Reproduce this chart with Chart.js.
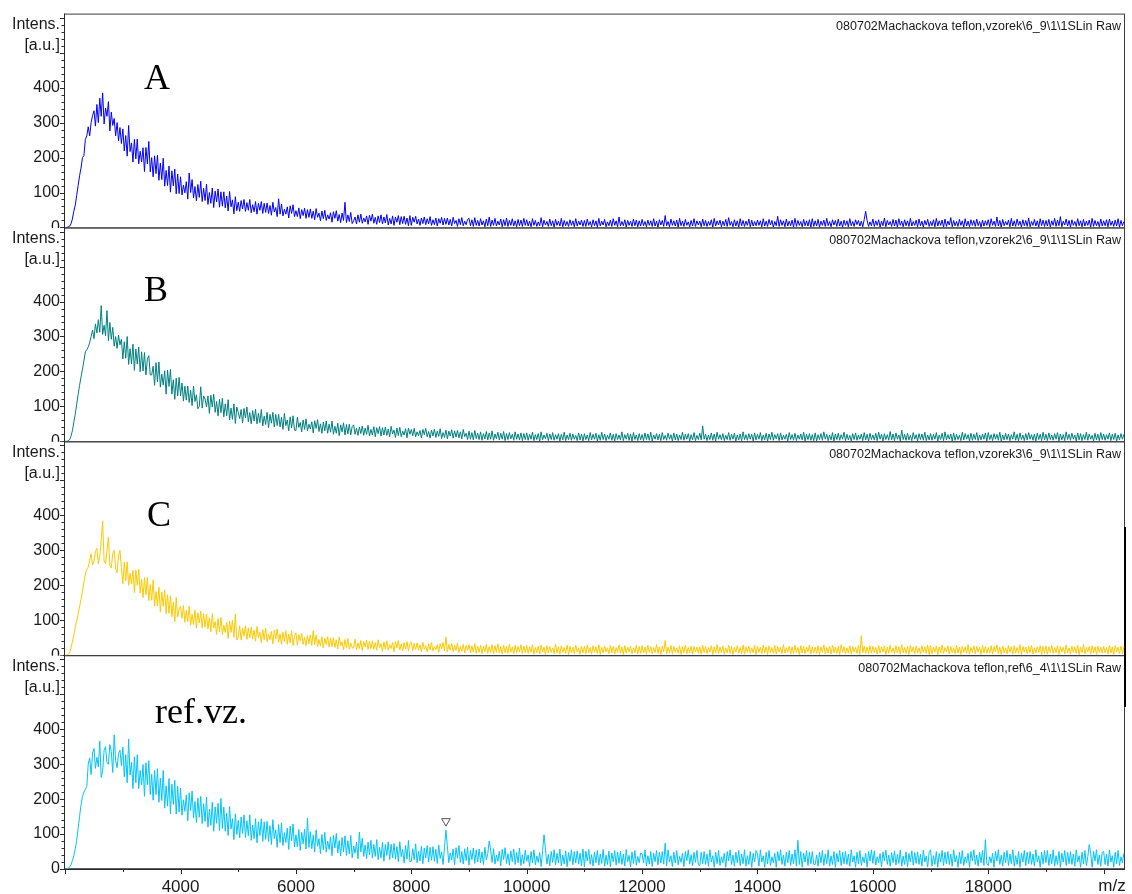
<!DOCTYPE html>
<html>
<head>
<meta charset="utf-8">
<script src="https://cdn.jsdelivr.net/npm/chart.js@4.4.1/dist/chart.umd.min.js"></script>
<style>
  html, body { margin: 0; padding: 0; background: #ffffff; }
  canvas { display: block; }
</style>
</head>
<body>
<canvas id="spectra" width="1132" height="894"></canvas>
<script>
// m/z sampling grid shared by all four spectra
const mz = [
  2000,2025,2050,2075,2100,2125,2150,2175,2200,2225,2250,2275,2300,2325,2350,2375,2400,2425,2450,2475,2500,2525,2550,2575,2600,2625,2650,2675,2700,2725,2750,2775,2800,2825,2850,2875,2900,2925,2950,2975,
  3000,3025,3050,3075,3100,3125,3150,3175,3200,3225,3250,3275,3300,3325,3350,3375,3400,3425,3450,3475,3500,3525,3550,3575,3600,3625,3650,3675,3700,3725,3750,3775,3800,3825,3850,3875,3900,3925,3950,3975,
  4000,4025,4050,4075,4100,4125,4150,4175,4200,4225,4250,4275,4300,4325,4350,4375,4400,4425,4450,4475,4500,4525,4550,4575,4600,4625,4650,4675,4700,4725,4750,4775,4800,4825,4850,4875,4900,4925,4950,4975,
  5000,5025,5050,5075,5100,5125,5150,5175,5200,5225,5250,5275,5300,5325,5350,5375,5400,5425,5450,5475,5500,5525,5550,5575,5600,5625,5650,5675,5700,5725,5750,5775,5800,5825,5850,5875,5900,5925,5950,5975,
  6000,6025,6050,6075,6100,6125,6150,6175,6200,6225,6250,6275,6300,6325,6350,6375,6400,6425,6450,6475,6500,6525,6550,6575,6600,6625,6650,6675,6700,6725,6750,6775,6800,6825,6850,6875,6900,6925,6950,6975,
  7000,7025,7050,7075,7100,7125,7150,7175,7200,7225,7250,7275,7300,7325,7350,7375,7400,7425,7450,7475,7500,7525,7550,7575,7600,7625,7650,7675,7700,7725,7750,7775,7800,7825,7850,7875,7900,7925,7950,7975,
  8000,8025,8050,8075,8100,8125,8150,8175,8200,8225,8250,8275,8300,8325,8350,8375,8400,8425,8450,8475,8500,8525,8550,8575,8600,8625,8650,8675,8700,8725,8750,8775,8800,8825,8850,8875,8900,8925,8950,8975,
  9000,9025,9050,9075,9100,9125,9150,9175,9200,9225,9250,9275,9300,9325,9350,9375,9400,9425,9450,9475,9500,9525,9550,9575,9600,9625,9650,9675,9700,9725,9750,9775,9800,9825,9850,9875,9900,9925,9950,9975,
  10000,10025,10050,10075,10100,10125,10150,10175,10200,10225,10250,10275,10300,10325,10350,10375,10400,10425,10450,10475,10500,10525,10550,10575,10600,10625,10650,10675,10700,10725,10750,10775,10800,10825,10850,10875,10900,10925,10950,10975,
  11000,11025,11050,11075,11100,11125,11150,11175,11200,11225,11250,11275,11300,11325,11350,11375,11400,11425,11450,11475,11500,11525,11550,11575,11600,11625,11650,11675,11700,11725,11750,11775,11800,11825,11850,11875,11900,11925,11950,11975,
  12000,12025,12050,12075,12100,12125,12150,12175,12200,12225,12250,12275,12300,12325,12350,12375,12400,12425,12450,12475,12500,12525,12550,12575,12600,12625,12650,12675,12700,12725,12750,12775,12800,12825,12850,12875,12900,12925,12950,12975,
  13000,13025,13050,13075,13100,13125,13150,13175,13200,13225,13250,13275,13300,13325,13350,13375,13400,13425,13450,13475,13500,13525,13550,13575,13600,13625,13650,13675,13700,13725,13750,13775,13800,13825,13850,13875,13900,13925,13950,13975,
  14000,14025,14050,14075,14100,14125,14150,14175,14200,14225,14250,14275,14300,14325,14350,14375,14400,14425,14450,14475,14500,14525,14550,14575,14600,14625,14650,14675,14700,14725,14750,14775,14800,14825,14850,14875,14900,14925,14950,14975,
  15000,15025,15050,15075,15100,15125,15150,15175,15200,15225,15250,15275,15300,15325,15350,15375,15400,15425,15450,15475,15500,15525,15550,15575,15600,15625,15650,15675,15700,15725,15750,15775,15800,15825,15850,15875,15900,15925,15950,15975,
  16000,16025,16050,16075,16100,16125,16150,16175,16200,16225,16250,16275,16300,16325,16350,16375,16400,16425,16450,16475,16500,16525,16550,16575,16600,16625,16650,16675,16700,16725,16750,16775,16800,16825,16850,16875,16900,16925,16950,16975,
  17000,17025,17050,17075,17100,17125,17150,17175,17200,17225,17250,17275,17300,17325,17350,17375,17400,17425,17450,17475,17500,17525,17550,17575,17600,17625,17650,17675,17700,17725,17750,17775,17800,17825,17850,17875,17900,17925,17950,17975,
  18000,18025,18050,18075,18100,18125,18150,18175,18200,18225,18250,18275,18300,18325,18350,18375,18400,18425,18450,18475,18500,18525,18550,18575,18600,18625,18650,18675,18700,18725,18750,18775,18800,18825,18850,18875,18900,18925,18950,18975,
  19000,19025,19050,19075,19100,19125,19150,19175,19200,19225,19250,19275,19300,19325,19350,19375,19400,19425,19450,19475,19500,19525,19550,19575,19600,19625,19650,19675,19700,19725,19750,19775,19800,19825,19850,19875,19900,19925,19950,19975,
  20000,20025,20050,20075,20100,20125,20150,20175,20200,20225,20250,20275,20300,20325,20350
];

// Intensities [a.u.] of sample A (vzorek)
const intensA = [
  0,0,1,3,10,24,46,64,92,120,148,170,200,205,252,262,288,262,300,320,334,290,352,300,370,318,385,296,342,318,360,276,330,292,312,262,300,248,286,240,
  282,219,263,204,292,217,242,187,252,196,253,182,218,187,228,160,229,182,246,159,200,145,205,154,207,135,184,137,198,118,163,120,176,101,162,119,167,96,153,97,
  145,93,121,99,131,81,156,100,137,85,117,76,123,86,132,74,112,77,124,66,100,69,113,57,104,73,110,58,102,61,102,56,90,47,103,59,79,39,88,48,
  72,46,77,53,80,46,71,49,80,42,65,45,74,38,69,49,74,40,69,43,70,40,63,35,72,44,57,31,82,38,67,33,52,38,59,27,62,40,65,31,
  48,31,56,25,51,34,55,26,51,29,53,26,47,22,54,29,41,19,47,25,49,20,36,24,42,15,45,26,48,18,37,14,41,20,72,14,36,17,43,11,
  19,30,10,36,15,38,12,27,16,33,9,35,18,38,12,29,9,33,14,36,10,30,13,37,7,26,10,33,6,30,15,34,8,31,11,32,9,27,5,34,
  6,29,15,32,10,24,6,27,11,30,8,25,10,31,6,22,8,27,4,25,12,29,7,26,9,27,7,23,4,29,11,20,3,25,8,28,5,18,8,23,
  26,5,22,3,28,6,20,4,25,7,19,2,24,5,30,3,21,6,26,4,18,7,24,2,22,5,27,3,20,6,25,4,19,2,23,5,21,3,26,6,
  22,4,18,2,25,6,20,3,16,5,28,2,21,7,17,3,24,5,19,1,23,6,18,4,26,2,20,5,17,3,22,6,19,2,25,4,18,7,21,3,
  20,3,24,6,17,2,22,5,19,1,26,4,18,7,23,2,16,5,21,3,25,6,19,2,30,4,17,5,22,1,20,6,18,3,24,5,21,2,19,4,
  23,5,17,2,21,6,19,3,25,4,18,1,22,7,20,3,34,5,17,2,24,6,19,4,21,1,26,5,18,3,23,6,16,2,20,4,25,3,19,7,
  18,2,24,5,20,3,17,6,22,1,26,4,19,7,21,2,18,5,23,3,28,6,17,2,22,4,19,1,25,5,20,3,18,6,24,2,21,4,17,5,
  21,6,19,2,25,4,18,3,23,7,20,1,17,5,32,3,22,6,19,2,24,4,18,5,21,1,26,3,20,6,17,2,23,5,19,4,22,1,25,3,
  19,4,23,1,18,6,21,3,26,5,17,2,22,7,20,3,24,4,18,1,21,6,19,2,25,5,17,3,22,8,20,4,18,2,23,46,20,3,16,5,
  24,3,19,6,22,1,18,5,27,2,20,7,17,3,23,4,21,1,25,6,18,2,22,5,19,3,26,4,17,6,21,2,24,5,18,1,20,7,23,3,
  17,5,22,2,26,4,19,6,21,1,24,3,18,7,28,2,20,5,17,3,23,6,19,1,25,4,18,2,22,6,20,3,24,5,17,1,21,4,19,6,
  22,2,25,6,18,3,30,4,20,1,23,5,17,7,21,2,26,4,19,3,24,6,18,1,22,5,20,3,27,2,17,6,23,4,19,1,25,5,21,3,
  20,4,23,1,19,6,26,3,21,5,31,2,18,7,24,4,20,1,22,6,17,3,25,5,19,2,23,4,18,6,21,1,26,3,20,5,17,2,24,4,
  19,5,22,2,24,6,18,3,21,4,25,1,20,5,17
];

// Intensities [a.u.] of sample B (vzorek2)
const intensB = [
  0,0,1,4,14,30,54,78,106,134,160,184,206,230,256,262,270,282,300,318,294,336,310,348,312,388,306,332,302,374,288,340,292,326,272,300,266,304,276,292,
  236,285,238,300,220,265,221,278,203,264,221,270,199,256,201,254,190,235,245,190,190,215,160,225,170,227,155,192,161,202,135,204,157,206,135,176,120,181,130,183,
  130,167,115,158,118,158,111,146,102,158,114,133,93,100,156,95,130,121,98,130,80,132,98,135,83,114,73,120,82,123,70,107,73,119,61,95,63,107,51,98,
  83,65,91,52,94,67,98,56,82,50,88,58,92,50,80,53,91,44,72,48,83,39,77,52,83,41,77,45,77,41,69,34,80,45,61,30,70,38,73,32,
  31,69,40,54,27,61,34,64,30,49,35,56,24,59,37,62,28,50,23,55,30,58,23,49,26,58,20,43,23,52,16,47,27,53,18,48,21,49,18,42,
  47,20,37,17,41,22,44,17,38,20,46,15,34,18,42,13,39,22,42,15,39,18,41,17,35,13,43,21,32,11,38,16,40,13,29,18,36,10,38,20,
  34,16,37,13,27,16,31,9,34,19,37,13,28,9,32,15,35,11,29,14,36,8,25,11,32,7,29,15,33,9,30,12,31,10,27,7,34,13,23,5,
  29,6,25,4,31,8,23,5,27,3,22,7,28,4,24,6,30,3,21,7,26,4,23,6,28,2,22,5,25,7,20,3,27,6,21,4,24,2,22,5,
  24,3,20,6,26,2,19,5,22,1,27,4,18,7,23,2,21,5,25,3,19,6,22,1,20,4,26,2,18,5,23,3,21,6,17,2,24,4,20,1,
  22,5,18,2,25,4,20,6,23,1,19,3,26,5,21,2,17,6,24,3,20,1,22,5,18,4,27,2,19,6,23,3,21,1,25,5,18,2,22,4,
  19,2,24,5,21,3,26,1,18,6,22,4,20,2,25,5,17,3,23,6,19,1,24,4,21,2,18,5,26,3,20,6,22,1,19,4,25,2,17,5,
  23,4,44,6,20,2,18,5,24,3,21,1,26,6,19,4,22,2,17,5,25,3,20,6,23,1,18,4,21,2,27,5,19,3,22,6,20,1,24,4,
  20,6,25,2,18,4,23,1,21,5,26,3,19,7,22,2,24,4,17,6,20,1,25,5,19,3,23,2,18,6,21,4,26,1,20,5,22,3,19,2,
  24,1,19,5,22,3,27,6,20,2,18,4,25,1,21,5,23,3,19,6,26,2,20,4,17,1,22,5,24,3,18,6,21,2,25,4,20,1,23,5,
  18,4,23,2,26,6,20,1,22,5,19,3,28,4,21,2,24,6,18,1,32,5,20,3,23,4,17,2,25,6,19,1,22,5,21,3,26,2,18,4,
  22,3,20,6,25,1,18,5,23,2,27,4,19,6,21,1,24,3,20,5,17,2,26,4,22,6,19,1,23,3,20,5,25,2,18,4,21,6,24,1,
  25,5,19,2,22,6,20,3,26,1,18,4,23,5,21,2,19,6,27,3,20,1,24,5,18,2,22,4,25,6,19,3,21,1,23,5,20,2,26,4,
  20,2,24,5,18,3,22,6,25,1,21,4,19,2,27,5,20,3,23,6,18,1,24,4,22,2,19,5,26,3,21,6,17,1,23,4,20,2,25,5,
  21,3,19,6,24,2,20,5,23,1,18,4,22,6,20
];

// Intensities [a.u.] of sample C (vzorek3)
const intensC = [
  0,0,2,6,20,38,56,80,98,118,138,160,182,208,232,246,252,272,290,258,270,296,306,262,282,330,384,270,262,300,338,256,250,290,300,246,236,284,300,250,
  204,266,213,267,200,234,204,243,179,244,200,246,178,217,165,222,173,223,156,202,157,215,140,182,141,195,123,181,140,186,119,173,120,170,110,152,96,165,109,132,
  140,105,142,94,129,96,140,86,117,88,129,77,121,92,126,78,119,80,118,75,107,67,119,78,96,59,105,67,108,59,86,65,94,48,97,65,100,51,118,43,
  51,84,43,78,55,84,45,78,49,80,46,72,40,82,50,66,36,73,44,77,38,60,44,68,32,72,46,75,37,61,31,66,39,70,31,60,35,70,27,54,
  64,28,59,40,62,31,51,27,56,33,58,28,70,30,58,24,45,26,53,20,49,31,53,23,49,25,50,22,44,18,52,27,38,15,45,21,48,17,35,21,
  20,46,16,35,19,42,13,39,23,43,16,40,18,41,17,36,14,44,22,33,11,38,17,41,14,30,19,36,10,39,21,42,15,32,12,36,17,39,12,33,
  37,13,34,16,35,14,30,10,37,17,27,9,33,15,36,12,25,15,30,8,33,18,36,12,52,9,31,14,34,10,28,13,35,8,25,11,31,6,28,14,
  30,6,27,9,33,5,25,8,29,4,26,10,31,5,24,7,30,4,27,8,32,6,25,3,29,7,26,5,31,8,24,4,28,6,25,9,30,5,26,7,
  28,5,24,8,30,3,22,7,26,4,29,9,23,2,27,6,25,8,21,4,31,6,24,3,27,8,22,5,29,2,25,7,23,4,28,9,21,3,26,6,
  25,4,29,7,22,3,27,8,24,5,30,2,23,6,26,9,21,4,28,7,25,3,22,8,29,5,24,2,27,6,23,9,26,4,21,7,28,3,25,5,
  27,6,23,3,28,8,25,4,22,7,30,5,24,2,26,9,42,4,23,6,28,3,25,8,21,5,27,2,24,7,29,4,22,6,26,3,25,9,23,5,
  24,3,28,7,25,5,22,9,27,2,24,6,30,4,23,8,26,3,21,7,28,5,25,2,23,9,27,6,22,4,29,3,24,8,26,5,21,7,28,2,
  26,8,23,4,29,6,24,2,27,7,22,5,28,3,25,9,23,4,30,6,21,8,26,3,24,5,28,7,22,2,27,6,25,4,23,9,29,3,24,6,
  23,5,27,2,24,8,29,4,22,6,26,3,28,7,23,5,25,2,30,8,24,4,21,6,27,3,25,9,22,5,28,2,56,7,26,5,23,4,27,6,
  25,7,22,3,28,6,24,9,26,2,23,5,29,8,21,4,27,6,24,3,30,7,22,5,25,2,28,9,23,4,26,6,21,3,27,8,24,5,29,2,
  28,4,23,8,26,2,24,6,29,5,22,9,27,3,25,7,21,4,28,6,23,2,26,8,24,5,30,3,22,7,27,4,25,9,23,2,28,6,24,5,
  22,6,27,3,25,9,29,5,23,2,26,7,21,4,28,8,24,3,27,6,22,5,30,2,25,9,23,4,26,7,28,3,21,6,24,8,27,2,25,5,
  26,3,24,8,28,5,22,7,27,2,25,9,23,4,29,6,21,3,26,8,24,5,28,2,23,7,30,4,22,9,25,3,27,6,24,2,26,8,23,5,
  25,7,22,4,28,6,24,2,27,9,23,5,26,3,24
];

// Intensities [a.u.] of the reference sample (ref)
const intensRef = [
  0,0,2,5,12,24,38,58,82,116,150,184,208,220,228,236,300,318,270,332,345,288,320,292,366,262,280,340,350,304,300,356,336,276,384,310,290,330,340,296,
  349,264,327,247,372,269,305,230,321,247,327,230,282,241,299,208,304,241,310,213,271,197,282,213,287,191,260,196,282,174,238,180,259,158,243,185,254,157,237,163,
  232,154,198,165,212,138,218,167,223,146,193,133,203,148,208,130,187,136,206,120,171,125,191,108,178,131,188,110,202,116,177,108,160,96,179,114,144,84,158,99,
  139,89,149,102,155,90,138,95,155,82,126,87,144,75,135,96,144,79,135,85,137,79,124,70,141,87,112,62,127,76,132,67,104,76,117,56,123,81,129,63,
  98,64,113,53,105,72,114,57,146,62,107,58,97,49,112,65,87,44,99,55,105,48,80,56,92,38,97,60,102,46,81,37,90,49,95,39,81,43,96,32,
  66,45,77,29,106,49,88,36,69,30,77,41,82,31,70,36,84,27,62,32,76,22,70,39,78,27,71,32,73,28,64,21,78,35,56,17,67,28,82,21,
  22,58,27,72,18,51,23,65,15,60,32,67,20,62,25,64,22,56,16,69,30,49,13,61,111,65,18,46,26,57,12,61,31,67,19,50,14,58,24,63,
  11,53,27,60,16,55,20,57,18,49,13,62,26,44,80,54,19,58,14,40,22,51,9,56,27,61,16,44,11,52,21,57,13,47,18,60,10,41,15,54,
  22,40,7,50,17,55,12,37,19,47,7,52,98,57,14,42,9,50,19,55,12,45,17,57,9,40,14,52,7,47,22,55,12,50,17,52,14,45,9,57,
  6,51,23,56,13,41,8,49,18,53,11,43,16,56,8,39,13,51,6,46,21,53,11,49,16,51,13,43,8,56,21,39,6,49,16,53,11,36,18,46,
  43,17,55,9,38,14,50,7,45,21,53,12,48,17,50,14,74,9,55,21,38,7,48,17,53,12,36,19,45,7,50,24,55,14,41,9,48,19,53,12,
  10,48,15,50,13,43,8,55,20,38,5,48,15,53,10,35,18,45,5,50,23,55,13,40,8,48,18,53,10,43,15,55,8,38,13,50,5,45,20,53,
  43,8,55,20,38,5,48,15,53,10,35,18,45,5,50,23,55,13,40,8,48,18,53,10,43,15,55,8,82,13,50,5,45,20,53,10,48,15,50,13,
  13,40,8,48,18,53,10,43,15,55,8,38,13,50,5,45,20,53,10,48,15,50,13,43,8,55,20,38,5,48,15,53,10,35,18,45,5,50,23,55,
  16,52,11,35,18,44,6,49,23,54,13,40,8,47,18,52,11,42,16,54,8,37,13,49,6,44,20,52,11,47,16,49,13,42,8,54,20,37,6,47,
  55,8,38,13,50,5,45,20,53,10,48,15,50,13,43,8,55,20,38,5,48,15,53,10,35,18,45,5,50,23,55,13,40,8,48,18,53,10,84,15,
  10,35,18,45,5,50,23,55,13,40,8,48,18,53,10,43,15,55,8,38,13,50,5,45,20,53,10,48,15,50,13,43,8,55,20,38,5,48,15,53,
  18,53,10,43,15,55,8,38,13,50,5,45,20,53,10,48,15,50,13,43,8,55,20,38,5,48,15,53,10,35,70,45,5,50,23,55,13,40,8,48,
  50,13,43,8,55,20,38,5,48,15,53,10,35,18,45
];

// Peak marked with a triangle in the reference spectrum
const markerMz = [8600];
const markerIntens = [137];

// Axis tick labels
const xTickLabels = [4000, 6000, 8000, 10000, 12000, 14000, 16000, 18000];
const yTickLabels = [0, 100, 200, 300, 400];

// Panel texts
const spectrumTitles = [
  '080702Machackova teflon,vzorek\\6_9\\1\\1SLin Raw',
  '080702Machackova teflon,vzorek2\\6_9\\1\\1SLin Raw',
  '080702Machackova teflon,vzorek3\\6_9\\1\\1SLin Raw',
  '080702Machackova teflon,ref\\6_4\\1\\1SLin Raw'
];
const sampleNames = ['A', 'B', 'C', 'ref.vz.'];

// ---- styling / layout ----
const SANS = "'Liberation Sans', Arial, sans-serif";
const SERIF = "'Liberation Serif', 'Times New Roman', serif";
const panelAxes = ['yA', 'yB', 'yC', 'yD'];
const lineColors = ['#0000ff', '#008080', '#ffc800', '#00c3ff'];
const nameOffsets = [ // [centre x, baseline below panel top]
  [157, 75], [156, 74], [159, 85], [201, 68]
];
const Y_MAX = 612;

Chart.defaults.font.family = SANS;

function yAxis() {
  return {
    type: 'linear',
    position: 'left',
    stack: 'panels',
    stackWeight: 1,
    min: 0,
    max: Y_MAX,
    grid: { display: false, drawTicks: false },
    border: { display: false },
    afterBuildTicks(scale) { scale.ticks = yTickLabels.map((v) => ({ value: v })); },
    ticks: {
      autoSkip: false,
      padding: 4,
      color: '#1a1a1a',
      font: { family: SANS, size: 16 },
      callback: (v) => String(v)
    },
    afterFit(scale) { scale.width = 64; }
  };
}

const scales = {
  x: {
    type: 'linear',
    min: 1980,
    max: 20370,
    grid: { display: false, drawTicks: false },
    border: { display: false },
    afterBuildTicks(scale) { scale.ticks = xTickLabels.map((v) => ({ value: v })); },
    ticks: {
      autoSkip: false,
      maxRotation: 0,
      minRotation: 0,
      padding: 8,
      color: '#1a1a1a',
      font: { family: SANS, size: 17 },
      callback: (v) => String(v)
    },
    afterFit(scale) { scale.height = 25; }
  }
};
// stacked left axes are laid out bottom-first, so register the lowest panel first
panelAxes.slice().reverse().forEach((id) => { scales[id] = yAxis(); });

const series = [intensA, intensB, intensC, intensRef];
const datasets = series.map((values, i) => ({
  type: 'line',
  data: values,
  yAxisID: panelAxes[i],
  borderColor: lineColors[i],
  borderWidth: 1,
  pointRadius: 0,
  tension: 0,
  fill: false
}));
datasets.push({
  type: 'scatter',
  data: markerMz.map((x, i) => ({ x: x, y: markerIntens[i] })),
  yAxisID: 'yD',
  pointStyle: 'triangle',
  rotation: 180,
  pointRadius: 5,
  backgroundColor: '#ffffff',
  borderColor: '#555555',
  borderWidth: 1
});

// Frames, tick marks, axis captions and panel annotations
const panelDecor = {
  id: 'panelDecor',
  beforeDatasetsDraw(chart) {
    const ctx = chart.ctx;
    const area = chart.chartArea;
    const xs = chart.scales.x;
    ctx.save();
    panelAxes.forEach((id, i) => {
      const ys = chart.scales[id];
      const top = ys.top, bottom = ys.bottom;

      // hide the lower half of the previous panel's "0" label
      if (i > 0) {
        ctx.fillStyle = '#ffffff';
        ctx.fillRect(0, top + 0.5, area.left - 1, 9);
      }

      // frame
      ctx.strokeStyle = '#3c3c3c';
      ctx.lineWidth = 1;
      ctx.strokeRect(area.left + 0.5, top + 0.5, area.right - area.left - 1, bottom - top);

      // y ticks: every 20, longer every 100
      ctx.strokeStyle = '#2a2a2a';
      ctx.beginPath();
      for (let v = 0; v <= 600; v += 20) {
        const y = Math.round(ys.getPixelForValue(v)) + 0.5;
        const len = v % 100 === 0 ? 4 : 2.5;
        ctx.moveTo(area.left, y);
        ctx.lineTo(area.left - len, y);
      }
      ctx.stroke();

      // axis caption
      ctx.fillStyle = '#1a1a1a';
      ctx.font = '16px ' + SANS;
      ctx.textAlign = 'right';
      ctx.textBaseline = 'middle';
      ctx.fillText('Intens.', area.left - 4, top + 11);
      ctx.fillText('[a.u.]', area.left - 4, top + 32);

      // spectrum title
      ctx.font = '12.5px ' + SANS;
      ctx.fillText(spectrumTitles[i], area.right - 4, top + 13);

      // sample name
      ctx.font = '36px ' + SERIF;
      ctx.fillStyle = '#000000';
      ctx.textAlign = 'center';
      ctx.textBaseline = 'alphabetic';
      ctx.fillText(sampleNames[i], nameOffsets[i][0], top + nameOffsets[i][1]);
    });

    // bottom axis line and x ticks
    const bottom = area.bottom;
    ctx.strokeStyle = '#2a2a2a';
    ctx.lineWidth = 1.5;
    ctx.beginPath();
    ctx.moveTo(area.left, bottom);
    ctx.lineTo(area.right, bottom);
    ctx.stroke();
    ctx.lineWidth = 1;
    ctx.beginPath();
    for (let v = 2000; v <= 20000; v += 1000) {
      const x = Math.round(xs.getPixelForValue(v)) + 0.5;
      const len = v % 2000 === 0 ? 4 : 2;
      ctx.moveTo(x, bottom + 1);
      ctx.lineTo(x, bottom + 1 + len);
    }
    ctx.stroke();

    // left axis line
    ctx.beginPath();
    ctx.moveTo(area.left + 0.5, area.top);
    ctx.lineTo(area.left + 0.5, bottom);
    ctx.stroke();

    // x axis unit
    ctx.fillStyle = '#1a1a1a';
    ctx.font = '17px ' + SANS;
    ctx.textAlign = 'center';
    ctx.textBaseline = 'middle';
    ctx.fillText('m/z', area.right - 13, bottom + 17);

    // cursor bar on the right edge
    ctx.fillStyle = '#000000';
    ctx.fillRect(area.right - 1, 527, 2, 180);
    ctx.restore();
  }
};

new Chart(document.getElementById('spectra'), {
  type: 'line',
  data: { labels: mz, datasets: datasets },
  options: {
    responsive: false,
    animation: false,
    devicePixelRatio: 1,
    layout: { padding: { top: 11, right: 7, left: 0, bottom: 0 } },
    plugins: { legend: { display: false }, tooltip: { enabled: false }, title: { display: false } },
    scales: scales
  },
  plugins: [panelDecor]
});
</script>
</body>
</html>
